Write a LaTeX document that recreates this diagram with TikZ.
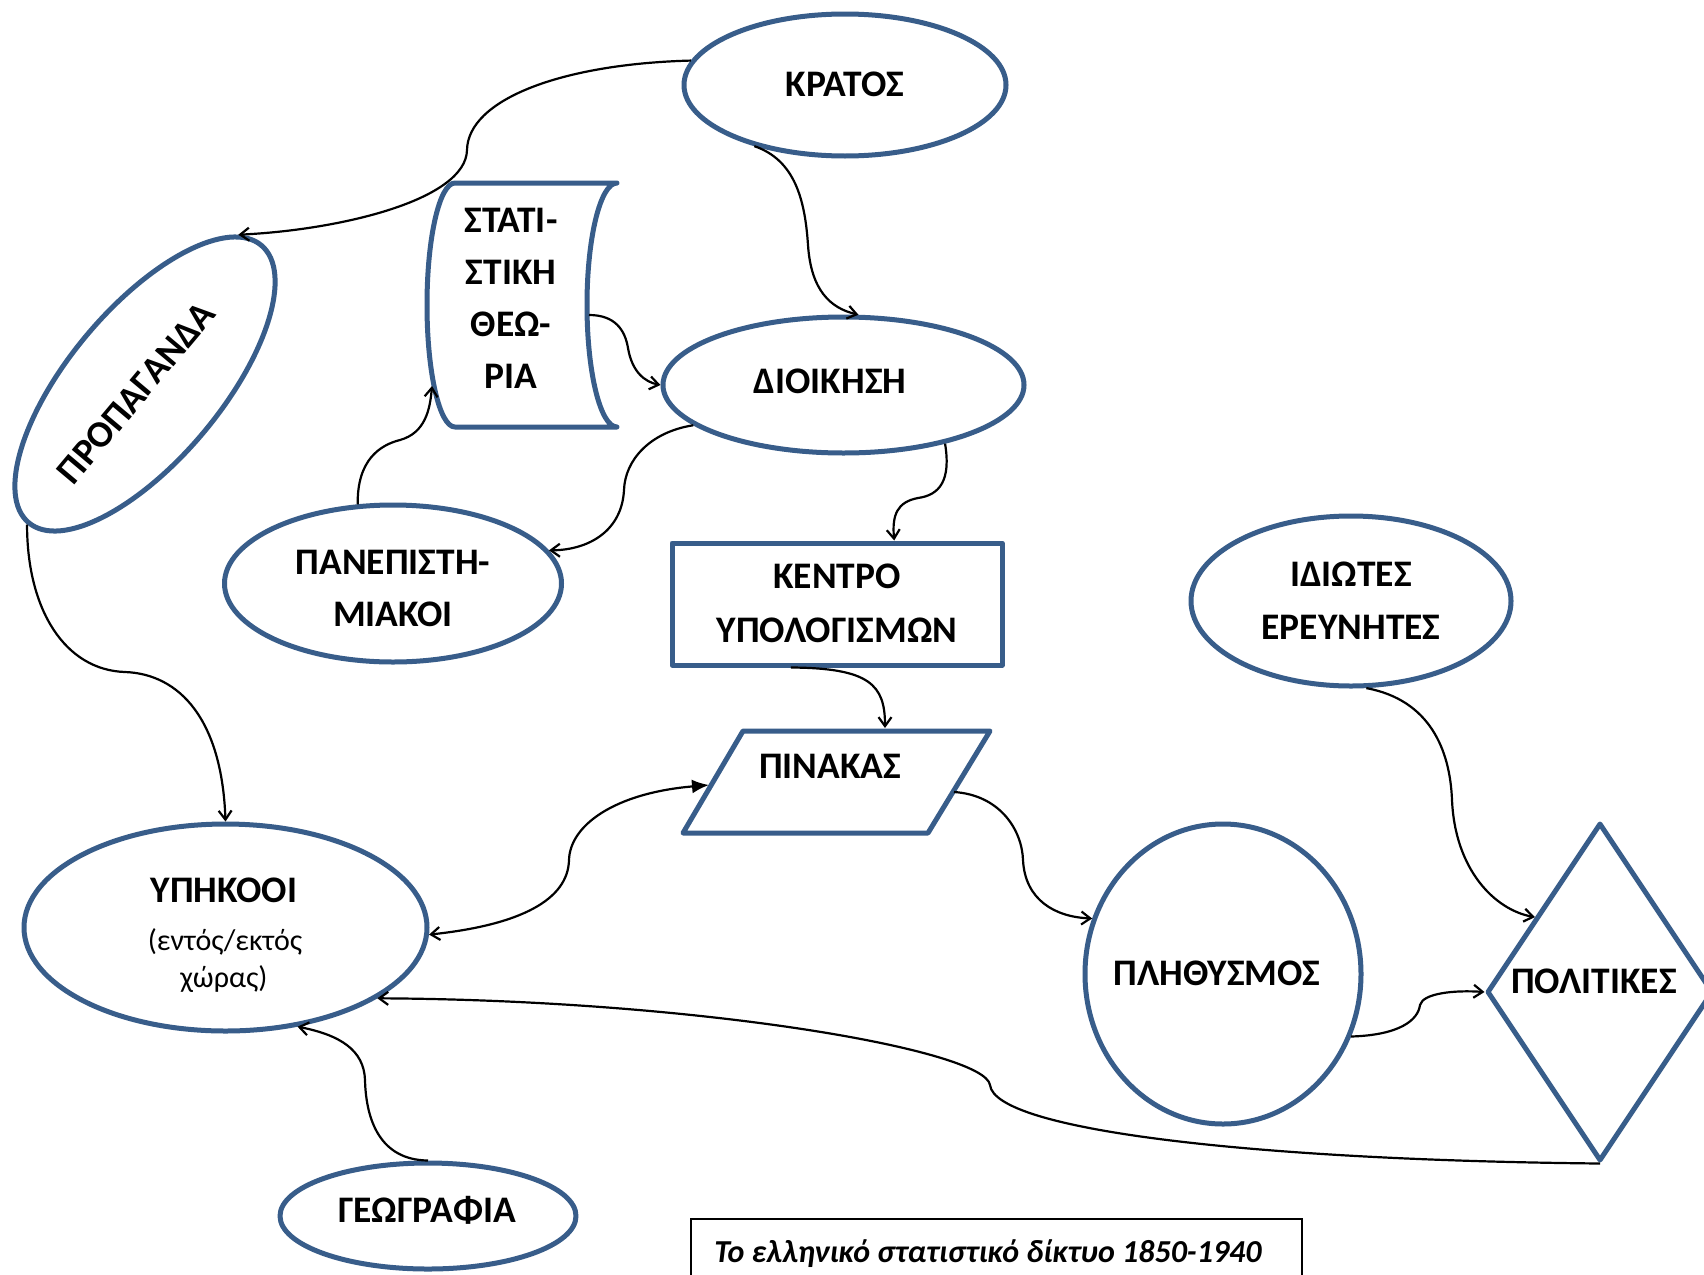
\documentclass[tikz,border=0pt]{standalone}
\usepackage{fontspec}
\setmainfont{Carlito}
\usetikzlibrary{shapes.geometric,arrows.meta}
\definecolor{nodeblue}{HTML}{385D8A}
\begin{document}
\begin{tikzpicture}[x=1pt,y=-1pt,
  shp/.style={draw=nodeblue, line width=5pt, line join=round, inner sep=0pt},
  ell/.style={shp, ellipse},
  lbl/.style={font=\bfseries\fontsize{37.5}{44}\selectfont, inner sep=0pt, anchor=base},
  sublbl/.style={font=\fontsize{30}{36}\selectfont, inner sep=0pt, anchor=base},
  conn/.style={line width=2.2pt, -{Straight Barb[length=9pt,width=13pt]}},
]
\useasboundingbox (0,0) rectangle (1704,1274);
\clip (0,0) rectangle (1704,1274);
\fill[white] (0,0) rectangle (1704,1274);

% shapes
\node[ell, minimum width=322pt, minimum height=142pt] (kratos) at (845,85) {};
\node[ell, minimum width=361pt, minimum height=136pt] (dioikisi) at (843.5,385) {};
\node[ell, minimum width=337pt, minimum height=157pt] (panep) at (393,583.5) {};
\node[ell, minimum width=320pt, minimum height=170pt] (idiotes) at (1351,601) {};
\node[ell, minimum width=403pt, minimum height=207pt] (ipikooi) at (225.5,927.5) {};
\node[ell, minimum width=276pt, minimum height=300pt] (plith) at (1223,974) {};
\node[ell, minimum width=296pt, minimum height=106pt] (geografia) at (428,1216) {};
\node[ell, minimum width=362pt, minimum height=152pt, rotate=50] (propaganda) at (145,384) {};
\node[shp, rectangle, minimum width=330pt, minimum height=122pt] (kentro) at (837,604) {};
\node[shp, diamond, minimum width=226pt, minimum height=338pt] (politikes) at (1600,992) {};

% stored-data shape (statistical theory)
\draw[shp, line cap=round] (455,183) -- (617,183)
  .. controls (600.4,183) and (587,237.6) .. (587,305)
  .. controls (587,372.4) and (600.4,427) .. (617,427)
  -- (455,427)
  .. controls (439.5,427) and (427,372.4) .. (427,305)
  .. controls (427,237.6) and (439.5,183) .. cycle;
% parallelogram (table)
\draw[shp] (743,731) -- (990,731) -- (928,833) -- (683,833) -- cycle;

\coordinate (statR) at (589,315);
\coordinate (statL) at (432,386);
\coordinate (pinT) at (885,728);
\coordinate (pinL) at (709,785);
\coordinate (pinR) at (954,792);

% labels
\node[lbl] (kratos-t) at (845,96.5) {ΚΡΑΤΟΣ};
\node[lbl] (dioikisi-t) at (830,393) {ΔΙΟΙΚΗΣΗ};
\node[lbl] (stat-t1) at (511,232) {ΣΤΑΤΙ-};
\node[lbl] (stat-t2) at (511,284) {ΣΤΙΚΗ};
\node[lbl] (stat-t3) at (511,336) {ΘΕΩ-};
\node[lbl] (stat-t4) at (511,388) {ΡΙΑ};
\node[lbl] (panep-t1) at (393,574) {ΠΑΝΕΠΙΣΤΗ-};
\node[lbl] (panep-t2) at (393,626) {ΜΙΑΚΟΙ};
\node[lbl] (kentro-t1) at (837,588) {ΚΕΝΤΡΟ};
\node[lbl] (kentro-t2) at (837,642) {ΥΠΟΛΟΓΙΣΜΩΝ};
\node[lbl] (pinakas) at (830,778) {ΠΙΝΑΚΑΣ};
\node[lbl] (idiotes-t1) at (1351,586) {ΙΔΙΩΤΕΣ};
\node[lbl] (idiotes-t2) at (1351,639) {ΕΡΕΥΝΗΤΕΣ};
\node[lbl] (ipikooi-t1) at (224,902) {ΥΠΗΚΟΟΙ};
\node[sublbl] (ipikooi-t2) at (225,950) {(εντός/εκτός};
\node[sublbl] (ipikooi-t3) at (224,987) {χώρας)};
\node[lbl] (plith-t) at (1217,985) {ΠΛΗΘΥΣΜΟΣ};
\node[lbl] (politikes-t) at (1594,993) {ΠΟΛΙΤΙΚΕΣ};
\node[lbl] (geografia-t) at (427,1222) {ΓΕΩΓΡΑΦΙΑ};
\node[lbl, anchor=center, rotate=50] (propaganda-t) at (136,393) {ΠΡΟΠΑΓΑΝΔΑ};

% caption
\draw[line width=1.5pt] (691,1219) rectangle (1302,1310);
\node[font=\bfseries\itshape\fontsize{32}{38}\selectfont, inner sep=0pt, anchor=base] (caption) at (988,1262) {Το ελληνικό στατιστικό δίκτυο 1850-1940};

% connectors
\draw[conn] (kratos.171.6) .. controls (560,64) and (468,100) .. (467,150)
  .. controls (466,200) and (340,230) .. (propaganda.8);
\draw[conn] (kratos.214) .. controls (795,160) and (805,200) .. (808,245)
  .. controls (811,290) and (830,308) .. (dioikisi.78);
\draw[conn] (statR) .. controls (615,315) and (625,330) .. (628,348)
  .. controls (632,372) and (645,382) .. (dioikisi.west);
\draw[conn] (dioikisi.330.7) .. controls (951,480) and (940,495) .. (918,498)
  .. controls (897,502) and (892,515) .. (kentro.48);
\draw[conn] (dioikisi.195.5) .. controls (650,432) and (625,460) .. (624,490)
  .. controls (622,530) and (590,550) .. (panep.12);
\draw[conn] (panep.114.8) .. controls (357,460) and (380,445) .. (400,440)
  .. controls (425,433) and (430,410) .. (statL);
\draw[conn] (kentro.234) .. controls (870,668) and (885,685) .. (pinT);
\draw[line width=2.2pt, {Straight Barb[length=9pt,width=13pt]}-{Latex[length=17pt,width=14pt]}]
  (ipikooi.-2) .. controls (520,925) and (568,900) .. (569,860)
  .. controls (570,825) and (615,793) .. (pinL);
\draw[conn] (pinR) .. controls (1000,795) and (1022,830) .. (1023,860)
  .. controls (1025,900) and (1055,917) .. (plith.157);
\draw[conn] (plith.-26) .. controls (1400,1035) and (1418,1020) .. (1420,1005)
  .. controls (1423,993) and (1455,990) .. (politikes.west);
\draw[conn] (idiotes.-80) .. controls (1430,700) and (1450,750) .. (1452,800)
  .. controls (1455,870) and (1495,910) .. (politikes.131);
\draw[conn] (politikes.south) .. controls (1250,1160) and (995,1130) .. (990,1085)
  .. controls (985,1050) and (700,1000) .. (ipikooi.-25);
\draw[conn] (geografia.north) .. controls (380,1160) and (366,1120) .. (365,1080)
  .. controls (364,1050) and (340,1035) .. (ipikooi.-54);
\draw[conn] (propaganda.west) .. controls (27,610) and (65,670) .. (125,672)
  .. controls (180,674) and (222,720) .. (ipikooi.north);
\end{tikzpicture}
\end{document}
